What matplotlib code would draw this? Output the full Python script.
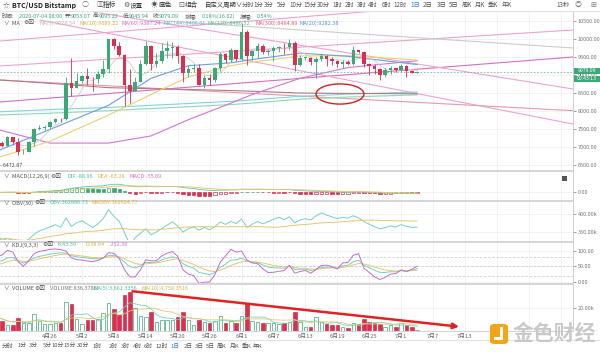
import numpy as np
import pandas as pd
import matplotlib
matplotlib.use("Agg")
import matplotlib.pyplot as plt
from matplotlib.patches import Ellipse, FancyBboxPatch, Rectangle

plt.rcParams['font.family'] = ['Noto Sans CJK SC', 'DejaVu Sans']

# ---- daily candles BTC/USD Bitstamp, 2020-04-16 .. 2020-07-04
start = '2020-04-16'
opens = [6620, 7110, 7030, 7260, 7130, 6850, 6860, 7130, 7490, 7510, 7540, 7690, 7770, 7760, 8780,
         8620, 8830, 8970, 8890, 8880, 9020, 9150, 9990, 9810, 9540, 8720, 8560, 8810, 9310, 9790, 9310,
         9380, 9670, 9730, 9780, 9510, 9060, 9170, 9180, 8720, 8900, 8840, 9200, 9580, 9420, 9700,
         9450, 10200, 9520, 9670, 9790, 9620, 9670, 9750, 9780, 9770, 9880, 9270, 9470, 9475, 9340,
         9430, 9520, 9450, 9380, 9300, 9360, 9290, 9680, 9620, 9290, 9250, 9160, 9000, 9120, 9190,
         9140, 9230, 9090, 9053.07]
highs = [7180, 7150, 7290, 7260, 7230, 6930, 7150, 7520, 7590, 7600, 7710, 7790, 7800, 8950, 9460,
         9060, 8990, 9200, 8950, 9090, 9400, 10000, 10030, 9900, 9570, 9160, 8950, 9400, 9930, 9830, 9590,
         9880, 9950, 9900, 9830, 9560, 9270, 9300, 9300, 8980, 9020, 9220, 9620, 9610, 9740, 9700,
         10430, 10230, 9690, 9880, 9850, 9720, 9800, 9800, 9880, 9990, 9950, 9550, 9500, 9490, 9500,
         9580, 9560, 9480, 9410, 9400, 9420, 9790, 9700, 9670, 9330, 9290, 9190, 9190, 9230, 9200,
         9300, 9260, 9120, 9095.22]
lows = [6472.87, 7000, 7020, 7060, 6780, 6790, 6850, 7030, 7460, 7450, 7500, 7660, 7680, 7730, 8420,
        8620, 8780, 8700, 8550, 8780, 8940, 9050, 9710, 9520, 8140, 8200, 8550, 8800, 9260, 9140, 9220,
        9330, 9470, 9460, 9320, 8800, 8940, 9080, 8700, 8640, 8700, 8810, 9110, 9330, 9360, 9380,
        9420, 9280, 9400, 9460, 9580, 9540, 9380, 9640, 9570, 9690, 9100, 9250, 9400, 9270, 8900,
        9380, 9250, 9280, 9210, 9180, 9270, 9280, 9590, 9220, 9000, 9030, 8840, 8950, 9030, 9080,
        9080, 8950, 9050, 9045.94]
closes = [7110, 7030, 7260, 7130, 6850, 6860, 7130, 7490, 7510, 7540, 7690, 7770, 7760, 8780, 8620,
          8830, 8970, 8890, 8880, 9020, 9150, 9990, 9810, 9540, 8720, 8560, 8810, 9310, 9790, 9310, 9380,
          9670, 9730, 9780, 9510, 9060, 9170, 9180, 8720, 8900, 8840, 9200, 9580, 9420, 9700, 9450,
          10200, 9520, 9670, 9790, 9620, 9670, 9750, 9780, 9770, 9880, 9270, 9470, 9475, 9340, 9430,
          9520, 9450, 9380, 9300, 9360, 9290, 9680, 9620, 9290, 9250, 9160, 9000, 9120, 9190, 9140,
          9230, 9090, 9053.07, 9079.09]
volumes = [12000, 8900, 5000, 5000, 11000, 6500, 7000, 14800, 9000, 5600, 5600, 6500, 7000, 25800, 23700,
           10000, 6000, 9500, 9500, 10000, 15400, 24900, 19000, 14000, 31700, 34700, 20000, 13000, 12400, 16900, 8000,
           9500, 9500, 9500, 11900, 16900, 9500, 5000, 9500, 8000, 6500, 8900, 13000, 7000, 8900, 6500,
           13000, 23700, 8900, 8000, 7000, 6500, 6500, 6000, 7000, 8000, 16900, 8000, 3500, 3500, 11900,
           8000, 6000, 5000, 5000, 3500, 2000, 6500, 6000, 10000, 8000, 7000, 6000, 3500, 5000, 3500,
           7000, 5000, 3000, 836.3786]

# long moving averages: (day index from 2020-04-16, price)
ma_days = [0.6, 10, 21, 29, 36, 44, 48, 57, 66, 79]
ma20 = [6910, 7480, 8150, 8900, 9250, 9330, 9420, 9600, 9510, 9282]
ma30 = [6715, 7150, 7880, 8450, 8940, 9250, 9350, 9520, 9530, 9410]
ma60 = [7460, 7100, 7100, 7300, 7750, 8210, 8450, 8900, 9200, 9387]
ma144 = [7970, 8030, 8090, 8150, 8200, 8260, 8300, 8400, 8460, 8520]
ma120 = [7880, 7930, 8000, 8060, 8110, 8170, 8210, 8320, 8380, 8440]
ma300 = [8853, 8760, 8640, 8610, 8590, 8560, 8540, 8490, 8480, 8470]

# drawn trend lines: ((day, price), (day, price))
trend_lines = {
    'up1': ((0.6, 8242), (108.3, 9492)),
    'up2': ((0.6, 9936), (75.8, 10825)),
    'up3': ((0.6, 9242), (108.3, 10242)),
    'dn1': ((19.4, 10714), (108.3, 8603)),
    'dn2': ((8.1, 10520), (108.3, 7630)),
    'dn3': ((0.6, 8853), (108.3, 8000)),
    'grey': ((28.8, 10520), (108.3, 9742)),
}

n = len(closes)
d = np.arange(n)
df = pd.DataFrame({'o': opens, 'h': highs, 'l': lows, 'c': closes, 'v': volumes})
dates = pd.date_range(start, periods=200)
up = df.c >= df.o

GREEN = '#3aa877'
RED = '#d9304f'
W, H = 600, 352
XR = 573
XLIM = (0.594, 108.3)

fig = plt.figure(figsize=(W / 100, H / 100), dpi=100)
fig.patch.set_facecolor('white')
grid_days = np.arange(4, 109, 6)


def panel(y0, y1):
    ax = fig.add_axes([0, 1 - y1 / H, XR / W, (y1 - y0) / H])
    ax.set_xlim(*XLIM)
    ax.yaxis.tick_right()
    ax.tick_params(axis='y', labelsize=4, length=2, pad=1.5, colors='#777', width=0.5)
    ax.tick_params(axis='x', length=0, labelbottom=False)
    for s in ['left', 'bottom']:
        ax.spines[s].set_visible(False)
    ax.spines['top'].set_color('#d5d5d5')
    ax.spines['top'].set_linewidth(1.4)
    ax.spines['right'].set_color('#cfcfcf')
    ax.spines['right'].set_linewidth(0.7)
    ax.set_xticks(grid_days)
    ax.grid(True, color='#f1f1f1', lw=0.6)
    ax.set_axisbelow(True)
    return ax


def T(x, y, s, c='#555', fs=4.2, **kw):
    fig.text(x / W, 1 - y / H, s, color=c, fontsize=fs, va='center', **kw)


def box(x, y, w, h, fc, **kw):
    fig.patches.append(FancyBboxPatch((x / W, 1 - (y + h) / H), w / W, h / H,
                                      transform=fig.transFigure, facecolor=fc,
                                      edgecolor='none', **kw))


# ---------------- main price panel
ax = panel(11, 170)
ax.spines['top'].set_visible(False)
ax.set_ylim(6352, 10770)
ax.set_yticks(np.arange(6500, 10501, 500))
ax.yaxis.set_major_formatter(plt.FormatStrFormatter('%.2f'))

for name, ((x0, y0), (x1, y1)) in trend_lines.items():
    col = {'up1': '#cf6fc9', 'grey': '#cccccc', 'dn3': '#e49aa8'}.get(name, '#f0a2cd')
    ax.plot([x0, x1], [y0, y1], color=col, lw=0.8, zorder=1)

ax.plot(ma_days, ma144, color='#7fd3e6', lw=0.8, zorder=2)
ax.plot(ma_days, ma120, color='#8fd8b0', lw=0.8, zorder=2)
ax.plot(ma_days, ma300, color='#b07a80', lw=0.8, zorder=2)
ax.plot(ma_days, ma60, color='#d772d8', lw=0.8, zorder=2)
ax.plot(ma_days, ma30, color='#f0d070', lw=0.8, zorder=2)
ax.plot(ma_days, ma20, color='#6c9fe0', lw=0.8, zorder=2)
ma5 = df.c.rolling(5, min_periods=1).mean()
ax.plot(d, ma5, color='#cccccc', lw=0.6, zorder=2)

ccol = np.where(up, GREEN, RED)
ax.vlines(d, df.l, df.h, color=ccol, lw=0.6, zorder=3)
body = np.maximum((df.c - df.o).abs(), 8)
ax.bar(d, body, bottom=np.minimum(df.o, df.c), width=0.66, color=ccol, lw=0, zorder=4)

last = closes[-1]
ax.axhline(last, color='#7fb79c', lw=0.6, ls=(0, (2, 2)), zorder=2)
imin = int(np.argmin(lows))
ax.text(imin + 0.6, lows[imin], '- %.2f' % lows[imin], fontsize=3.8, color='#444', va='center')

ax.add_patch(Ellipse((64.5, 8464), 9.0, 560, fill=False, edgecolor='#d42020', lw=1.0, zorder=6))

# price tags on the right
box(XR + 1, 67.8, 26, 6.2, '#3aa877', boxstyle='square,pad=0')
T(XR + 14, 71, '%.2f' % last, c='white', fs=3.7, ha='center')
box(XR + 1, 75.6, 26, 6.2, '#3aa877', boxstyle='square,pad=0')
T(XR + 14, 78.7, '09:43:13', c='white', fs=3.7, ha='center')

# ---------------- MACD
ema12 = df.c.ewm(span=12, adjust=False).mean()
ema26 = df.c.ewm(span=26, adjust=False).mean()
dif = ema12 - ema26
dea = dif.ewm(span=9, adjust=False).mean()
hist = 2 * (dif - dea)
axm = panel(171, 200)
M = dif.max()
axm.set_ylim(-0.96 * M, 2.66 * M)
axm.set_yticks([0])
axm.yaxis.set_major_formatter(plt.FormatStrFormatter('%.2f'))
prev = hist.shift(1).fillna(0)
for i in range(n):
    hv = hist[i]
    col = GREEN if hv >= 0 else RED
    hollow = hv > prev[i]
    axm.bar(i, hv, width=0.62, facecolor='white' if hollow else col, edgecolor=col, lw=0.5)
axm.plot(d, dif, color='#6dcdb4', lw=0.7)
axm.plot(d, dea, color='#e8c66f', lw=0.7)
box(562, 175.5, 5, 5, '#555', boxstyle='square,pad=0')

# ---------------- OBV
obv = (np.sign(df.c.diff().fillna(0)) * df.v).cumsum()
obv = obv - obv.iloc[-1] + 362886.73
maobv = obv.rolling(30, min_periods=1).mean()
axo = panel(201, 240)
axo.set_ylim(326600, 436700)
axo.set_yticks([350000, 400000])
axo.set_yticklabels(['350.00k', '400.00k'])
axo.plot(d, obv, color='#72d3c2', lw=0.7)
axo.plot(d, maobv, color='#e8c66f', lw=0.7)

# ---------------- KDJ
llv = df.l.rolling(9, min_periods=1).min()
hhv = df.h.rolling(9, min_periods=1).max()
rsv = (df.c - llv) / (hhv - llv) * 100
K, D = [], []
k0 = d0 = 50.0
for r in rsv:
    k0 = 2 / 3 * k0 + r / 3
    d0 = 2 / 3 * d0 + k0 / 3
    K.append(k0)
    D.append(d0)
K, D = np.array(K), np.array(D)
J = 3 * K - 2 * D
axk = panel(242, 283)
axk.set_ylim(-4.2, 129.3)
axk.set_yticks([0, 50, 100])
axk.yaxis.set_major_formatter(plt.FormatStrFormatter('%.2f'))
for lv in [20, 50, 80]:
    axk.axhline(lv, color='#d0d0d0', lw=0.6, ls=(0, (3, 2)))
axk.plot(d, K, color='#72d3c2', lw=0.7)
axk.plot(d, D, color='#e8c66f', lw=0.7)
axk.plot(d, J, color='#c46ad8', lw=0.7)

# ---------------- VOLUME
axv = panel(284, 331)
axv.set_ylim(-300, 41500)
axv.set_yticks([20000])
axv.set_yticklabels(['20.00k'])
vcol = np.where(up, GREEN, RED)
axv.bar(d, df.v, width=0.66, facecolor=np.where(up, 'white', RED), edgecolor=vcol, lw=0.5)
axv.plot(d, df.v.rolling(5, min_periods=1).mean(), color='#72d3c2', lw=0.6)
axv.plot(d, df.v.rolling(10, min_periods=1).mean(), color='#e8c66f', lw=0.6)
axv.annotate('', xy=(87.4, 3300), xytext=(25, 35300),
             arrowprops=dict(arrowstyle='-|>', color='#e02222', lw=1.8, mutation_scale=8))
axv.spines['bottom'].set_visible(True)
axv.spines['bottom'].set_color('#d5d5d5')

for gd in grid_days[1:15]:
    dt = dates[gd]
    T((gd - 13) * 5.32 + 66, 336, '%d月%d' % (dt.month, dt.day), c='#666', fs=4.2, ha='center')

# ---------------- header texts
fig.add_artist(plt.Line2D([0, 1], [1 - 11 / H, 1 - 11 / H], transform=fig.transFigure, color='#e4e4e4', lw=0.8))
T(3, 5, '☆', c='#666', fs=5)
T(12, 5.2, 'BTC/USD Bitstamp', c='#222', fs=5, weight='bold')
T(82, 5, '○', c='#666', fs=5)
for x, ic, s in [(96, '▥', '指标'), (123, '⚙', '设置'), (151, '☀', '画色'), (178, '⊡', '组合')]:
    T(x, 5, ic, c='#555', fs=5)
    T(x + 7, 5, s, c='#333', fs=4.8)
T(205, 5, '自定义周期∨', c='#333', fs=4.6)
periods = ['分时', '1分', '3分', '5分', '10分', '15分', '30分', '1时', '2时', '3时', '4时', '6时',
           '12时', '1日', '2日', '3日', '5日', '周K', '月K', '季K', '年K']
top_x = [248, 258, 269, 282, 296, 310, 323, 337, 350, 362, 373, 387, 400, 415, 428, 442, 454, 467, 480, 493, 507]
bot_x = [8, 22, 33, 47, 58, 70, 83, 97, 113, 125, 137, 148, 162, 175, 188, 199, 210, 222, 235, 247, 258]
for p, xt, xb in zip(periods, top_x, bot_x):
    col = '#2f7fe8' if p == '1日' else '#555'
    T(xt, 5, p, c=col, fs=4.5, ha='center')
    T(xb, 346, p, c=col, fs=4.2, ha='center')
T(563, 5, '13秒', c='#555', fs=4.5, ha='center')
T(578, 5, '◎', c='#777', fs=5, ha='center')
T(593, 5, '⊞', c='#777', fs=5, ha='center')
fig.add_artist(plt.Line2D([0, 1], [1 - 340 / H, 1 - 340 / H], transform=fig.transFigure, color='#e4e4e4', lw=0.8))

info = [(2, '时间:', '2020-07-04 08:00'), (65, '开:', '9053.07'), (93, '高:', '9095.22'),
        (123, '低:', '9045.94'), (153, '收:', '9079.09'), (185, '涨幅:', '0.18%(16.02)'),
        (240, '振幅:', '0.54%')]
for x, lab, val in info:
    T(x, 16, lab, c='#555', fs=4)
    T(x + (17 if len(lab) == 3 else 6 if len(lab) == 2 else 12), 16, val, c='#3aa877', fs=4)

T(4, 23, '∨  MA', c='#555', fs=4)
T(23, 23, '⚙⊠', c='#444', fs=4.2)
for x, s, c in [(40, 'MA(5):9078.54', '#bdbdbd'), (80, 'MA(10):9089.22', '#d7b443'),
                (122, 'MA(60):9387.24', '#d56ad6'), (163, 'MA(144):8406.61', '#5fb8e0'),
                (208, 'MA(120):8486.32', '#4fbf8a'), (255, 'MA(300):8484.89', '#e0607a'),
                (300, 'MA(20):9282.38', '#5b8fe0')]:
    T(x, 23, s, c=c, fs=4)

T(4, 176, '∨  MACD(12,26,9)', c='#555', fs=4)
T(50, 176, '⚙⊠', c='#444', fs=4.2)
T(67, 176, 'DIF:-88.96', c='#4fbf9f', fs=4)
T(98, 176, 'DEA:-63.28', c='#d7b443', fs=4)
T(130, 176, 'MACD:-55.69', c='#d56ad6', fs=4)

T(4, 203, '∨  OBV(30)', c='#555', fs=4)
T(34, 203, '⚙⊠', c='#444', fs=4.2)
T(50, 203, 'OBV:362886.73', c='#4fbf9f', fs=4)
T(92, 203, 'MAOBV:362604.77', c='#d7b443', fs=4)

T(4, 245, '∨  KDJ(9,3,3)', c='#555', fs=4)
T(42, 245, '⚙⊠', c='#444', fs=4.2)
T(58, 245, 'K:43.39', c='#4fbf9f', fs=4)
T(85, 245, 'D:38.64', c='#d7b443', fs=4)
T(110, 245, 'J:52.38', c='#d56ad6', fs=4)

T(4, 288, '∨  VOLUME', c='#555', fs=4)
T(34, 288, '⚙⊠', c='#444', fs=4.2)
T(50, 288, 'VOLUME:836.3786', c='#777', fs=4)
T(94, 288, 'MA(5):3,661.3356', c='#4fbf9f', fs=4)
T(142, 288, 'MA(10):4,758.3516', c='#d7b443', fs=4)

# ---------------- watermark (logo drawn as shapes)
box(490, 324, 18, 20, '#f3a417', boxstyle='round,pad=0,rounding_size=0.008', zorder=10)
fig.patches.append(Rectangle((500 / W, 1 - 340 / H), 3 / W, 13 / H, transform=fig.transFigure,
                             facecolor='white', edgecolor='none', zorder=11))
fig.patches.append(Rectangle((494 / W, 1 - 340 / H), 9 / W, 3 / H, transform=fig.transFigure,
                             facecolor='white', edgecolor='none', zorder=11))
T(513, 333, '金色财经', c='#c4c4c4', fs=15, weight='bold', alpha=0.9, zorder=11)

fig.savefig('out.png', dpi=100, facecolor='white')
